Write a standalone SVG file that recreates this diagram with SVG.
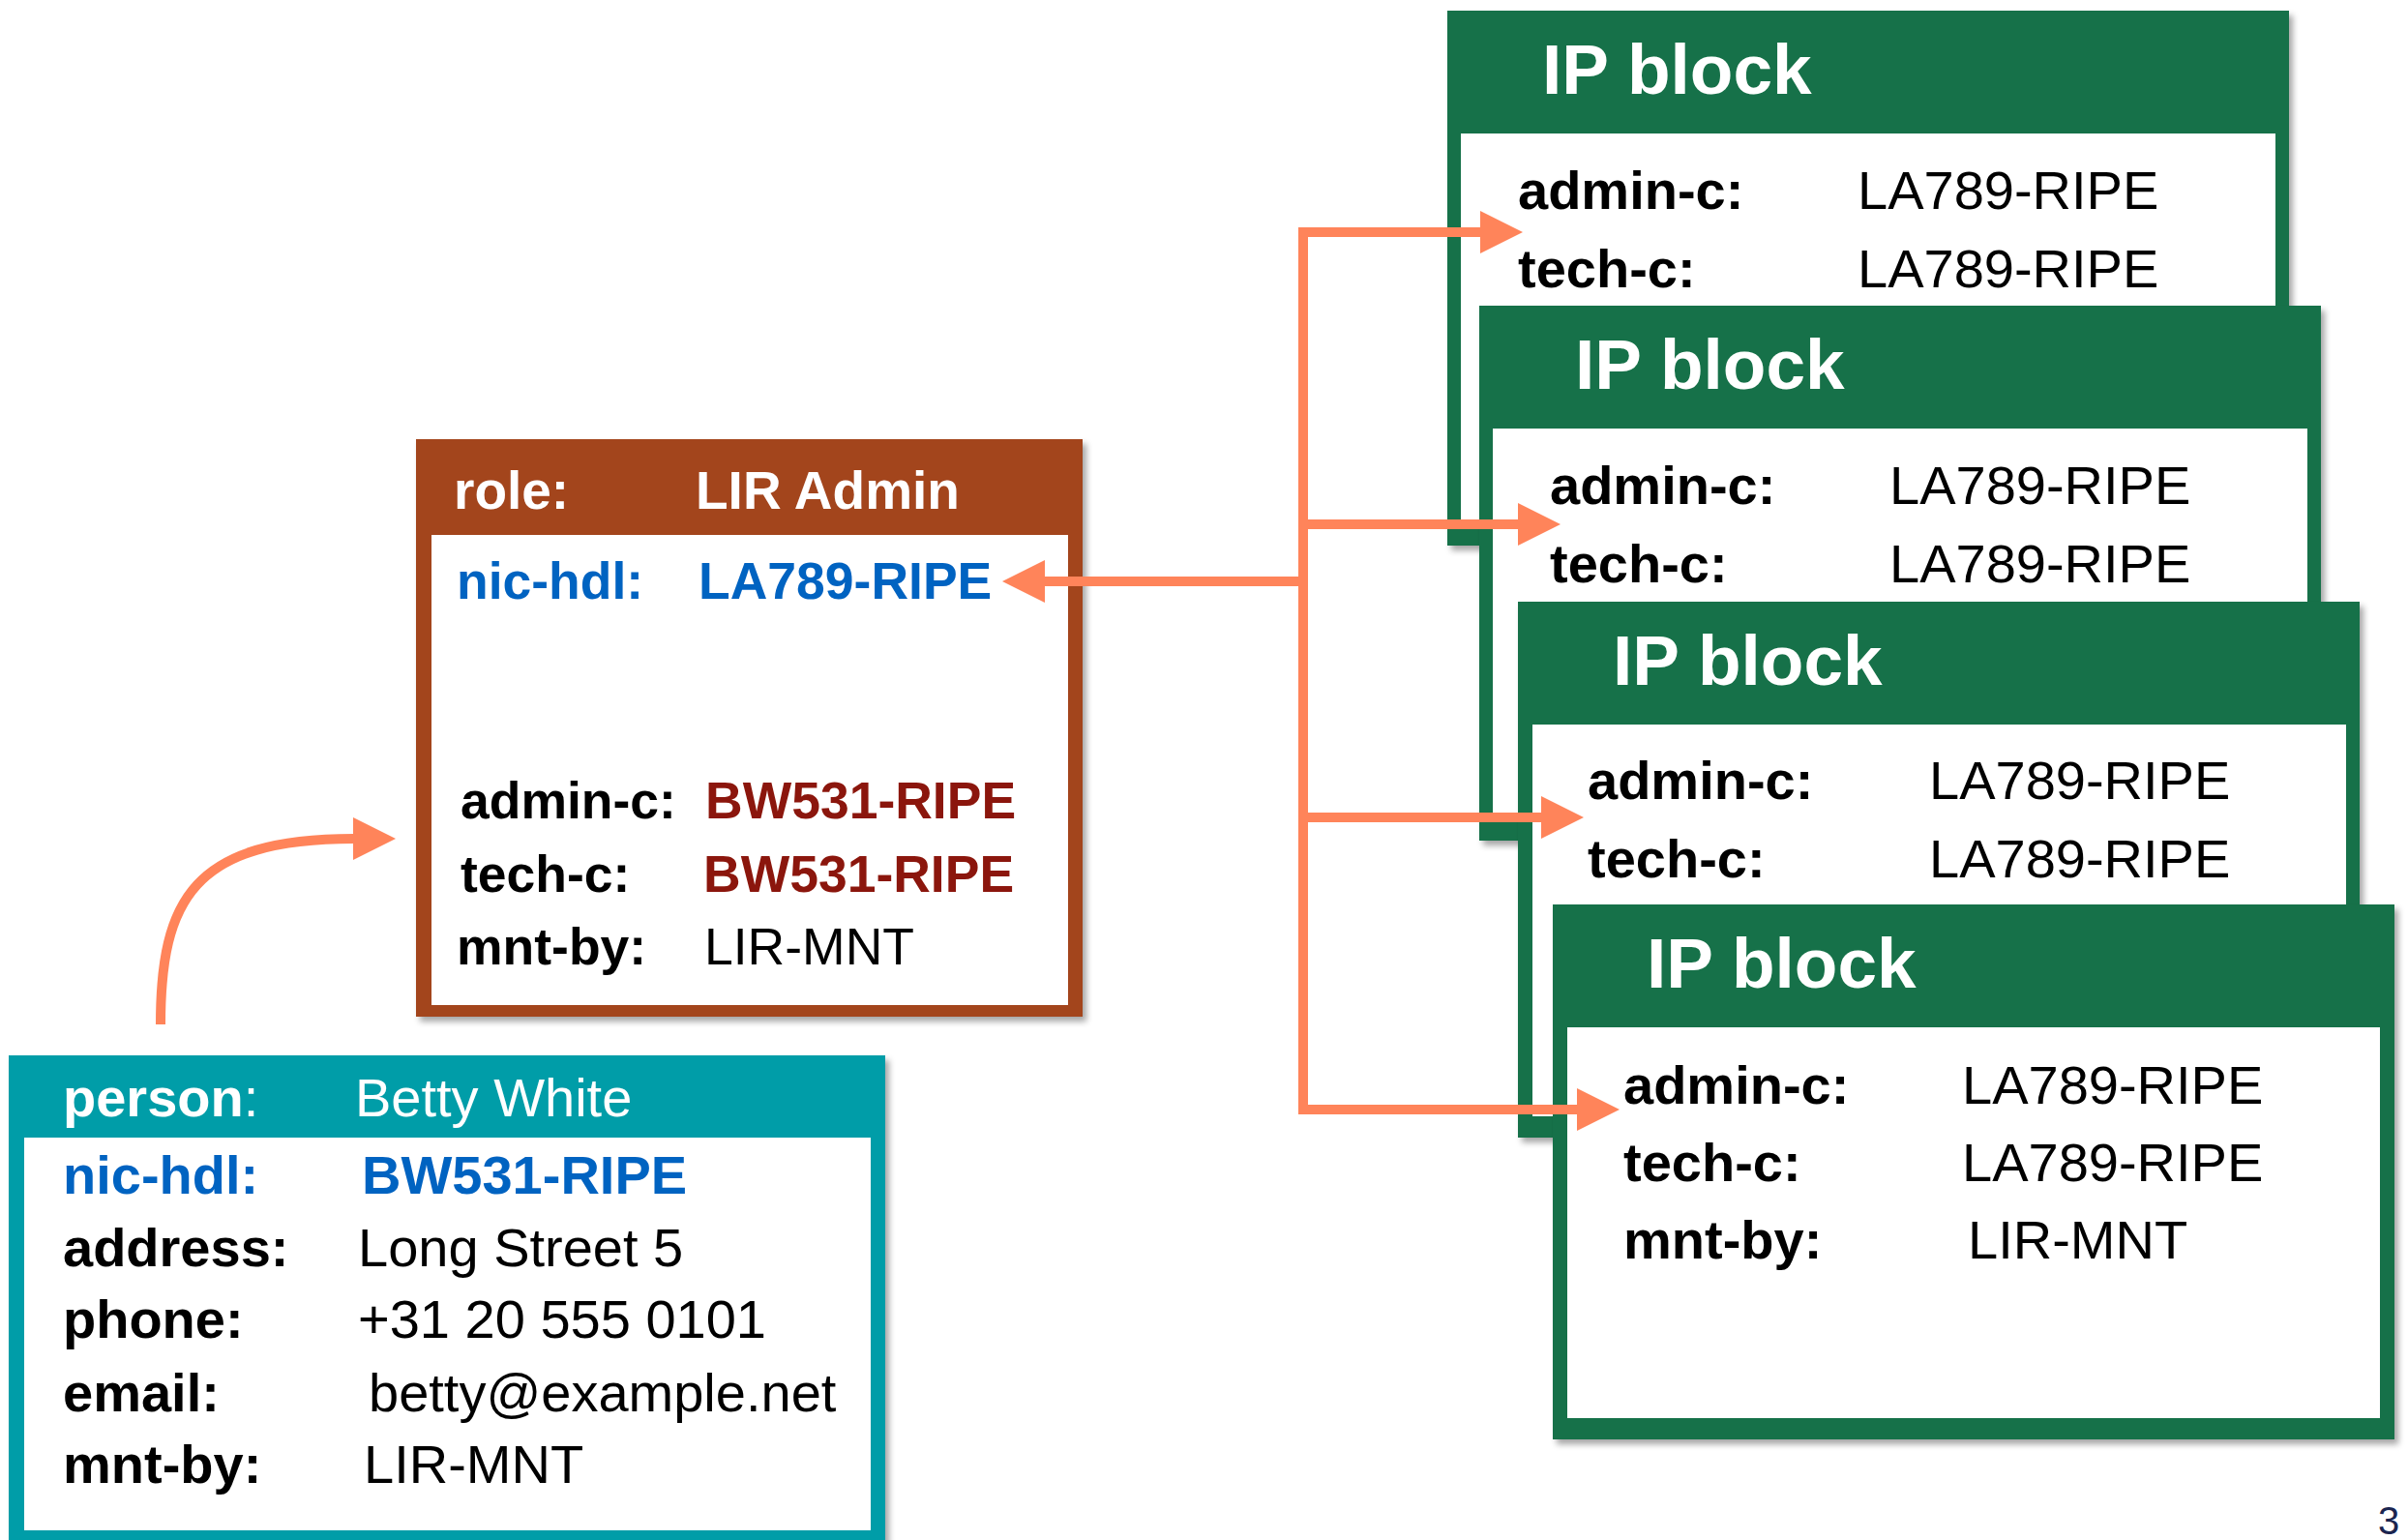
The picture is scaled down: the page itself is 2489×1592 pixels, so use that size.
<svg xmlns="http://www.w3.org/2000/svg" width="2489" height="1592" viewBox="0 0 2489 1592">
<defs>
<filter id="sh" x="-5%" y="-5%" width="115%" height="115%">
<feDropShadow dx="4" dy="5" stdDeviation="3" flood-color="#000" flood-opacity="0.35"/>
</filter>
<marker id="ah" viewBox="0 0 44 44" refX="1" refY="22" markerWidth="44" markerHeight="44" markerUnits="userSpaceOnUse" orient="auto">
<path d="M0,0 L44,22 L0,44 z" fill="#FF845A"/>
</marker>
</defs>
<style>
text{font-family:"Liberation Sans",Arial,Helvetica,sans-serif}
.hdr{fill:#fff;font-weight:bold}
.lbl{font-weight:bold;fill:#000}
.val{fill:#000}
.blue{fill:#0563C1;font-weight:bold}
.red{fill:#8B1307;font-weight:bold}
.conn{fill:none;stroke:#FF845A;stroke-width:10}
.green{fill:#177148}
.white{fill:#fff}
.ip text{font-size:56px}
.ip text.hdr{font-size:73px}
.rl text{font-size:53.5px}
.rl text.hdr{font-size:55px}
.ps text{font-size:56px}
</style>
<rect width="2489" height="1592" fill="#fff"/>

<g id="ipblock1" class="ip" filter="url(#sh)">
<rect class="green" x="1496" y="11" width="870" height="553"/>
<rect class="white" x="1510" y="138" width="842" height="404"/>
<text class="hdr" x="1594" y="97">IP block</text>
<text class="lbl" x="1569" y="216">admin-c:</text>
<text class="val" x="1920" y="216">LA789-RIPE</text>
<text class="lbl" x="1569" y="297">tech-c:</text>
<text class="val" x="1920" y="297">LA789-RIPE</text>
</g>

<g id="ipblock2" class="ip" filter="url(#sh)">
<rect class="green" x="1529" y="316" width="870" height="553"/>
<rect class="white" x="1543" y="443" width="842" height="404"/>
<text class="hdr" x="1628" y="402">IP block</text>
<text class="lbl" x="1602" y="521">admin-c:</text>
<text class="val" x="1953" y="521">LA789-RIPE</text>
<text class="lbl" x="1602" y="602">tech-c:</text>
<text class="val" x="1953" y="602">LA789-RIPE</text>
</g>

<g id="ipblock3" class="ip" filter="url(#sh)">
<rect class="green" x="1569" y="622" width="870" height="554"/>
<rect class="white" x="1584" y="749" width="841" height="405"/>
<text class="hdr" x="1667" y="708">IP block</text>
<text class="lbl" x="1641" y="826">admin-c:</text>
<text class="val" x="1994" y="826">LA789-RIPE</text>
<text class="lbl" x="1641" y="907">tech-c:</text>
<text class="val" x="1994" y="907">LA789-RIPE</text>
</g>

<g id="ipblock4" class="ip" filter="url(#sh)">
<rect class="green" x="1605" y="935" width="870" height="553"/>
<rect class="white" x="1620" y="1062" width="840" height="404"/>
<text class="hdr" x="1702" y="1021">IP block</text>
<text class="lbl" x="1678" y="1141">admin-c:</text>
<text class="val" x="2028" y="1141">LA789-RIPE</text>
<text class="lbl" x="1678" y="1221">tech-c:</text>
<text class="val" x="2028" y="1221">LA789-RIPE</text>
<text class="lbl" x="1678" y="1301">mnt-by:</text>
<text class="val" x="2034" y="1301">LIR-MNT</text>
</g>

<g id="role" class="rl" filter="url(#sh)">
<rect fill="#A3451F" x="430" y="454" width="689" height="597"/>
<rect class="white" x="446" y="553" width="658" height="486"/>
<text class="hdr" x="469" y="526">role:</text>
<text class="hdr" x="719" y="526">LIR Admin</text>
<text class="blue" x="472" y="619">nic-hdl:</text>
<text class="blue" x="722" y="619">LA789-RIPE</text>
<text class="lbl" x="476" y="846">admin-c:</text>
<text class="red" x="729" y="846">BW531-RIPE</text>
<text class="lbl" x="476" y="922">tech-c:</text>
<text class="red" x="727" y="922">BW531-RIPE</text>
<text class="lbl" x="472" y="997">mnt-by:</text>
<text class="val" x="728" y="997">LIR-MNT</text>
</g>

<g id="person" class="ps" filter="url(#sh)">
<rect fill="#009DA8" x="9" y="1091" width="906" height="505"/>
<rect class="white" x="25" y="1176" width="875" height="406"/>
<text x="65" y="1154" fill="#fff"><tspan font-weight="bold">person</tspan>:</text>
<text x="367" y="1154" fill="#fff">Betty White</text>
<text class="blue" x="65" y="1234">nic-hdl:</text>
<text class="blue" x="374" y="1234">BW531-RIPE</text>
<text class="lbl" x="65" y="1309">address:</text>
<text class="val" x="370" y="1309">Long Street 5</text>
<text class="lbl" x="65" y="1383">phone:</text>
<text class="val" x="370" y="1383">+31 20 555 0101</text>
<text class="lbl" x="65" y="1459">email:</text>
<text class="val" x="381" y="1459">betty@example.net</text>
<text class="lbl" x="65" y="1533">mnt-by:</text>
<text class="val" x="376" y="1533">LIR-MNT</text>
</g>

<g id="connectors">
<path class="conn" d="M1531,240 H1347 V1147 H1631" marker-end="url(#ah)"/>
<path class="conn" d="M1347,542 H1570" marker-end="url(#ah)"/>
<path class="conn" d="M1347,845 H1594" marker-end="url(#ah)"/>
<path class="conn" d="M1347,240 H1531" marker-end="url(#ah)"/>
<path class="conn" d="M1347,601 H1079" marker-end="url(#ah)"/>
<path class="conn" d="M166,1059 C166,930 200,867 366,867" marker-end="url(#ah)"/>
</g>

<text x="2458" y="1586" font-size="40" fill="#1B2550">3</text>
</svg>
